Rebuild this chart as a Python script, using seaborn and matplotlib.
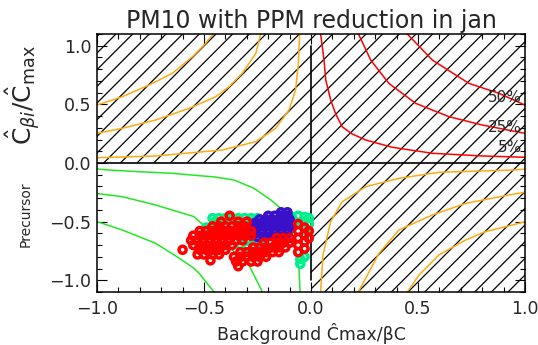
import matplotlib
matplotlib.use("Agg")
import matplotlib.pyplot as plt
from matplotlib.patches import Rectangle
from matplotlib.ticker import MultipleLocator, FixedLocator
import seaborn as sns
import pandas as pd

# ---------------- data ----------------
title = "PM10 with PPM reduction in jan"
x_ticks = [-1.0, -0.5, 0.0, 0.5, 1.0]
x_tick_labels = ["\u22121.0", "\u22120.5", "0.0", "0.5", "1.0"]
y_ticks = [-1.0, -0.5, 0.0, 0.5, 1.0]
y_tick_labels = ["\u22121.0", "\u22120.5", "0.0", "0.5", "1.0"]

# red isolines (upper right)
red5_x = [0.045, 0.061, 0.069, 0.092, 0.115, 0.146, 0.19, 0.256, 0.38, 0.567, 0.80, 1.0]
red5_y = [1.10, 0.878, 0.708, 0.537, 0.42, 0.309, 0.25, 0.196, 0.134, 0.083, 0.060, 0.049]
red25_x = [0.222, 0.279, 0.364, 0.489, 0.645, 0.80, 1.0]
red25_y = [1.10, 0.878, 0.679, 0.509, 0.395, 0.324, 0.253]
red50_x = [0.45, 0.567, 0.738, 0.879, 1.0]
red50_y = [1.10, 0.878, 0.679, 0.594, 0.494]

# orange isolines (upper left)
oul50_x = [-1.0, -0.882, -0.757, -0.648, -0.554, -0.492, -0.458]
oul50_y = [0.494, 0.565, 0.665, 0.765, 0.906, 1.02, 1.10]
oul25_x = [-1.0, -0.882, -0.726, -0.57, -0.445, -0.383, -0.321, -0.258, -0.235]
oul25_y = [0.253, 0.296, 0.367, 0.466, 0.565, 0.650, 0.765, 0.935, 1.10]
oul5_x = [-1.0, -0.726, -0.414, -0.258, -0.165, -0.103, -0.072, -0.059, -0.053]
oul5_y = [0.045, 0.060, 0.111, 0.182, 0.296, 0.452, 0.622, 0.850, 1.10]

# orange isolines (lower right)
olr5_x = [0.045, 0.056, 0.092, 0.146, 0.256, 0.411, 0.598, 0.941, 1.0]
olr5_y = [-1.10, -0.784, -0.50, -0.33, -0.202, -0.131, -0.079, -0.060, -0.052]
olr25_x = [0.221, 0.318, 0.411, 0.567, 0.723, 0.941, 1.0]
olr25_y = [-1.10, -0.77, -0.571, -0.443, -0.344, -0.267, -0.25]
olr50_x = [0.45, 0.505, 0.598, 0.723, 0.816, 0.941, 1.0]
olr50_y = [-1.10, -0.955, -0.784, -0.656, -0.585, -0.529, -0.50]

# green isolines (lower left)
g1_x = [-1.0, -0.944, -0.804, -0.648, -0.523, -0.453, -0.36, -0.266, -0.188, -0.142, -0.118, -0.08, -0.056, -0.051]
g1_y = [-0.051, -0.060, -0.074, -0.088, -0.108, -0.118, -0.145, -0.216, -0.315, -0.386, -0.457, -0.65, -0.898, -1.10]
g2_x = [-1.0, -0.882, -0.726, -0.547, -0.469, -0.38, -0.29, -0.227]
g2_y = [-0.26, -0.287, -0.358, -0.457, -0.586, -0.72, -0.87, -1.10]
g3_x = [-1.0, -0.882, -0.726, -0.617, -0.547, -0.523, -0.453]
g3_y = [-0.50, -0.571, -0.685, -0.81, -0.898, -0.94, -1.10]

# scatter points (estimated positions of the rings)
cyan_x = [-0.46, -0.43, -0.40, -0.37, -0.34, -0.31, -0.28, -0.25,
          -0.45, -0.28, -0.25,
          -0.09, -0.06, -0.03, -0.01, -0.08, -0.04, -0.01, -0.09, -0.02,
          -0.03, -0.05, -0.05,
          -0.33, -0.30, -0.27, -0.24, -0.30, -0.26,
          -0.49, -0.29]
cyan_y = [-0.47, -0.47, -0.47, -0.47, -0.47, -0.47, -0.47, -0.47,
          -0.50, -0.50, -0.50,
          -0.46, -0.45, -0.46, -0.47, -0.50, -0.50, -0.52, -0.55, -0.58,
          -0.80, -0.82, -0.86,
          -0.70, -0.72, -0.70, -0.68, -0.66, -0.64,
          -0.55, -0.54]
blue_x = [-0.14, -0.11,
          -0.20, -0.17, -0.14, -0.11,
          -0.24, -0.21, -0.18, -0.15, -0.12, -0.10,
          -0.26, -0.23, -0.20, -0.17, -0.14, -0.11,
          -0.27, -0.24, -0.21, -0.18, -0.15, -0.12, -0.10,
          -0.29, -0.26, -0.23, -0.20, -0.17, -0.14, -0.11,
          -0.29, -0.26, -0.23, -0.20, -0.17, -0.14, -0.11,
          -0.25, -0.21, -0.17, -0.13]
blue_y = [-0.42, -0.42,
          -0.45, -0.45, -0.45, -0.45,
          -0.48, -0.48, -0.48, -0.48, -0.48, -0.48,
          -0.51, -0.51, -0.51, -0.51, -0.51, -0.51,
          -0.54, -0.54, -0.54, -0.54, -0.54, -0.54, -0.54,
          -0.57, -0.57, -0.57, -0.57, -0.57, -0.57, -0.57,
          -0.60, -0.60, -0.60, -0.60, -0.60, -0.60, -0.60,
          -0.63, -0.63, -0.63, -0.63]
red_x = [-0.42, -0.34, -0.30,
         -0.46, -0.43, -0.40, -0.37, -0.34, -0.31,
         -0.52, -0.49, -0.46, -0.43, -0.40, -0.37, -0.34, -0.31, -0.28,
         -0.55, -0.52, -0.49, -0.46, -0.43, -0.40, -0.37, -0.34, -0.31, -0.28,
         -0.56, -0.53, -0.50, -0.47, -0.44, -0.41, -0.38, -0.35, -0.32,
         -0.55, -0.52, -0.49, -0.46, -0.43, -0.40, -0.37,
         -0.52, -0.49, -0.46, -0.43, -0.40,
         -0.50, -0.46, -0.43,
         -0.60, -0.38, -0.47, -0.53,
         -0.16, -0.13, -0.10,
         -0.22, -0.19, -0.16, -0.13, -0.10,
         -0.27, -0.24, -0.21, -0.18, -0.15, -0.12,
         -0.33, -0.30, -0.27, -0.24, -0.21, -0.18, -0.15,
         -0.36, -0.33, -0.30, -0.27, -0.24, -0.21,
         -0.35, -0.32, -0.28, -0.25,
         -0.34,
         -0.06, -0.06, -0.06, -0.06, -0.06,
         -0.03, -0.03, -0.03, -0.03,
         -0.01, -0.01]
red_y = [-0.50, -0.50, -0.50,
         -0.54, -0.54, -0.54, -0.54, -0.54, -0.54,
         -0.58, -0.58, -0.58, -0.58, -0.58, -0.58, -0.58, -0.58, -0.58,
         -0.62, -0.62, -0.62, -0.62, -0.62, -0.62, -0.62, -0.62, -0.62, -0.62,
         -0.66, -0.66, -0.66, -0.66, -0.66, -0.66, -0.66, -0.66, -0.66,
         -0.70, -0.70, -0.70, -0.70, -0.70, -0.70, -0.70,
         -0.74, -0.74, -0.74, -0.74, -0.74,
         -0.78, -0.78, -0.78,
         -0.74, -0.45, -0.83, -0.78,
         -0.64, -0.64, -0.64,
         -0.68, -0.68, -0.68, -0.68, -0.68,
         -0.72, -0.72, -0.72, -0.72, -0.72, -0.72,
         -0.76, -0.76, -0.76, -0.76, -0.76, -0.76, -0.76,
         -0.80, -0.80, -0.80, -0.80, -0.80, -0.80,
         -0.84, -0.84, -0.84, -0.84,
         -0.88,
         -0.52, -0.58, -0.64, -0.70, -0.76,
         -0.55, -0.61, -0.67, -0.73,
         -0.58, -0.64]

pct_labels = ["50%", "25%", "5%"]
pct_y = [0.56, 0.30, 0.13]

# ---------------- styling ----------------
sns.set_style("white")
plt.rcParams["font.family"] = ["DejaVu Sans"]
plt.rcParams["mathtext.fontset"] = "dejavusans"
plt.rcParams["hatch.color"] = "black"
plt.rcParams["hatch.linewidth"] = 0.9

C_RED = "#ff0000"
C_ORANGE = "#ffaa10"
C_GREEN = "#22e822"
C_CYAN = "#00f08c"
C_BLUE = "#3a10c8"

fig = plt.figure(figsize=(5.38, 3.45), dpi=100)
ax = fig.add_axes([0.1803, 0.1536, 0.7955, 0.7478])
ax.set_xlim(-1.0, 1.0)
ax.set_ylim(-1.1, 1.1)

# hatched quadrants
for (x0, y0) in [(-1.0, 0.0), (0.0, 0.0), (0.0, -1.1)]:
    ax.add_patch(Rectangle((x0, y0), 1.0, 1.1, fill=False, hatch="//",
                           edgecolor="black", linewidth=0, zorder=0.5))

# axis cross
ax.axhline(0.0, color="black", lw=1.2, zorder=1)
ax.plot([0.0, 0.0], [-1.0, 1.0], color="black", lw=1.2, zorder=1)

def curve(xs, ys, color):
    df = pd.DataFrame({"x": xs, "y": ys})
    sns.lineplot(data=df, x="x", y="y", sort=False, estimator=None,
                 color=color, lw=1.1, ax=ax, zorder=2)

for xs, ys in [(red5_x, red5_y), (red25_x, red25_y), (red50_x, red50_y)]:
    curve(xs, ys, C_RED)
for xs, ys in [(oul50_x, oul50_y), (oul25_x, oul25_y), (oul5_x, oul5_y),
               (olr5_x, olr5_y), (olr25_x, olr25_y), (olr50_x, olr50_y)]:
    curve(xs, ys, C_ORANGE)
for xs, ys in [(g1_x, g1_y), (g2_x, g2_y), (g3_x, g3_y)]:
    curve(xs, ys, C_GREEN)

for xs, ys, col in [(cyan_x, cyan_y, C_CYAN), (blue_x, blue_y, C_BLUE), (red_x, red_y, C_RED)]:
    sns.scatterplot(x=xs, y=ys, ax=ax, marker="o", s=26, color=col,
                    facecolor="none", edgecolor=col, linewidth=2.5, zorder=3)

for lab, yv in zip(pct_labels, pct_y):
    ax.text(0.985, yv, lab, ha="right", va="center", fontsize=11, zorder=4)

# ticks
ax.xaxis.set_major_locator(FixedLocator(x_ticks))
ax.yaxis.set_major_locator(FixedLocator(y_ticks))
ax.set_xticklabels(x_tick_labels)
ax.set_yticklabels(y_tick_labels)
ax.xaxis.set_minor_locator(MultipleLocator(0.1))
ax.yaxis.set_minor_locator(MultipleLocator(0.1))
ax.tick_params(which="both", direction="in", top=True, right=True,
               bottom=True, left=True, color="black", width=0.8)
ax.tick_params(which="major", length=7, labelsize=12.5)
ax.tick_params(which="minor", length=3.5)
ax.tick_params(axis="x", which="major", pad=6)
ax.tick_params(axis="y", which="major", pad=4)
for sp in ax.spines.values():
    sp.set_color("black")
    sp.set_linewidth(1.1)

ax.set_title(title, fontsize=17, pad=4.5)
ax.set_xlabel("Background \u0108max/\u03b2C", fontsize=12.5, labelpad=3)
ax.set_ylabel("")
ax.text(-0.166, 0.30, "Precursor", rotation=90, fontsize=10,
        ha="center", va="center", transform=ax.transAxes)
ax.text(-0.172, 0.764, r"$\hat{\mathrm{C}}_{\beta i}/\hat{\mathrm{C}}_{\mathrm{max}}$",
        rotation=90, fontsize=18, ha="center", va="center", transform=ax.transAxes)

fig.savefig("out.png", dpi=100)
